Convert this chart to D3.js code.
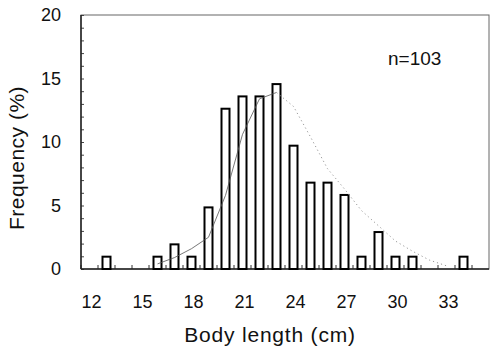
<!DOCTYPE html>
<html>
<head>
<meta charset="utf-8">
<script src="https://cdn.jsdelivr.net/npm/d3@7"></script>
<style>
  body { margin: 0; background: #fff; }
  text { font-family: "Liberation Sans", Arial, sans-serif; fill: #111; }
</style>
</head>
<body>
<svg id="histGraph" width="490" height="347"></svg>
<script>

// body length classes (cm) shown on the x axis
var categories = [12,13,14,15,16,17,18,19,20,21,22,23,24,25,26,27,28,29,30,31,32,33,34,35];
var xTickLabels = [12,15,18,21,24,27,30,33];
var yTickLabels = [0,5,10,15,20];

// bars: frequency (%) per length class, n=103
var barLengths = [13,16,17,18,19,20,21,22,23,24,25,26,27,28,29,30,31,34];
var barFreq = [0.97,0.97,1.94,0.97,4.85,12.62,13.59,13.59,14.56,9.71,6.80,6.80,5.83,0.97,2.91,0.97,0.97,0.97];

// fitted curve, rising part and falling part
var riseLengths = [16,17,18,19,20,21,22,23];
var riseFreq = [0.4,0.9,1.6,2.5,5.8,10.6,13.4,13.9];
var fallLengths = [23,24,25,26,27,28,29,30,31,32,33];
var fallFreq = [13.9,12.8,10.4,7.9,6.3,4.6,3.4,2.2,1.4,0.7,0.25];

var margin = {top: 15, right: 1, bottom: 78, left: 81};
var svg = d3.select('#histGraph');
var w = +svg.attr('width') - margin.left - margin.right;
var h = +svg.attr('height') - margin.top - margin.bottom;

var xScale = d3.scaleBand().domain(categories).range([0, w]);
var yScale = d3.scaleLinear().domain([0, 20]).range([h, 0]);
var cx = (v) => xScale(v) + xScale.bandwidth() / 2;

var g = svg.append('g')
  .attr('transform', 'translate(' + margin.left + ',' + margin.top + ')');

// frame (top and right are lighter in the scan)
g.append('rect')
  .attr('width', w).attr('height', h)
  .style('fill', 'none')
  .style('stroke', '#666')
  .style('stroke-width', '1px');

// minor ticks on y axis, every 1 %
g.append('g')
  .call(d3.axisRight(yScale).ticks(20).tickSize(3).tickFormat(''))
  .call((a) => a.select('.domain').remove())
  .selectAll('line').style('stroke', '#444');

// minor ticks on x axis at class boundaries
g.append('g')
  .attr('transform', 'translate(0,' + h + ')')
  .selectAll('line')
  .data(categories)
  .enter().append('line')
  .attr('x1', (d) => xScale(d)).attr('x2', (d) => xScale(d))
  .attr('y1', 0).attr('y2', -4)
  .style('stroke', '#333');

// y axis labels
var yAxis = g.append('g')
  .call(d3.axisLeft(yScale).tickValues(yTickLabels).tickSize(0).tickPadding(20));
yAxis.select('.domain').remove();
yAxis.selectAll('text')
  .style('font-size', '18px')
  .style('font-family', '"Liberation Sans", Arial, sans-serif')
  .attr('fill', '#111');

// x axis labels
var xAxis = g.append('g')
  .attr('transform', 'translate(0,' + h + ')')
  .call(d3.axisBottom(xScale).tickValues(xTickLabels).tickSize(0).tickPadding(26));
xAxis.select('.domain').remove();
xAxis.selectAll('text')
  .attr('dx', 2)
  .style('font-size', '18px')
  .style('font-family', '"Liberation Sans", Arial, sans-serif')
  .attr('fill', '#111');

// left and bottom axis lines
g.append('line').attr('x1', 0).attr('x2', 0).attr('y1', 0).attr('y2', h)
  .style('stroke', '#222').style('stroke-width', '1.5px');
g.append('line').attr('x1', 0).attr('x2', w).attr('y1', h).attr('y2', h)
  .style('stroke', '#222').style('stroke-width', '1.5px');

// bars
var barW = 8;
g.selectAll('.bar')
  .data(barLengths)
  .enter().append('rect')
  .attr('class', 'bar')
  .attr('x', (d) => cx(d) - barW / 2)
  .attr('y', (d, i) => yScale(barFreq[i]))
  .attr('width', barW)
  .attr('height', (d, i) => h - yScale(barFreq[i]))
  .style('fill', '#fff')
  .style('stroke', '#000')
  .style('stroke-width', '2px');

// fitted curve
var curveLine = d3.line()
  .x((d) => cx(d[0]))
  .y((d) => yScale(d[1]));

g.append('path')
  .datum(d3.zip(riseLengths, riseFreq))
  .attr('d', curveLine)
  .style('fill', 'none')
  .style('stroke', '#555')
  .style('stroke-width', '0.8px');

g.append('path')
  .datum(d3.zip(fallLengths, fallFreq))
  .attr('d', curveLine)
  .style('fill', 'none')
  .style('stroke', '#999')
  .style('stroke-width', '1px')
  .style('stroke-dasharray', '1.2,3');

// sample size
svg.append('text')
  .attr('x', 388).attr('y', 65)
  .style('font-size', '19px')
  .text('n=103');

// axis titles
svg.append('text')
  .attr('x', 270).attr('y', 342)
  .attr('text-anchor', 'middle')
  .style('font-size', '21px')
  .style('letter-spacing', '0.8px')
  .text('Body length (cm)');

svg.append('text')
  .attr('transform', 'translate(24,158) rotate(-90)')
  .attr('text-anchor', 'middle')
  .style('font-size', '21px')
  .style('letter-spacing', '0.5px')
  .text('Frequency (%)');

</script>
</body>
</html>
